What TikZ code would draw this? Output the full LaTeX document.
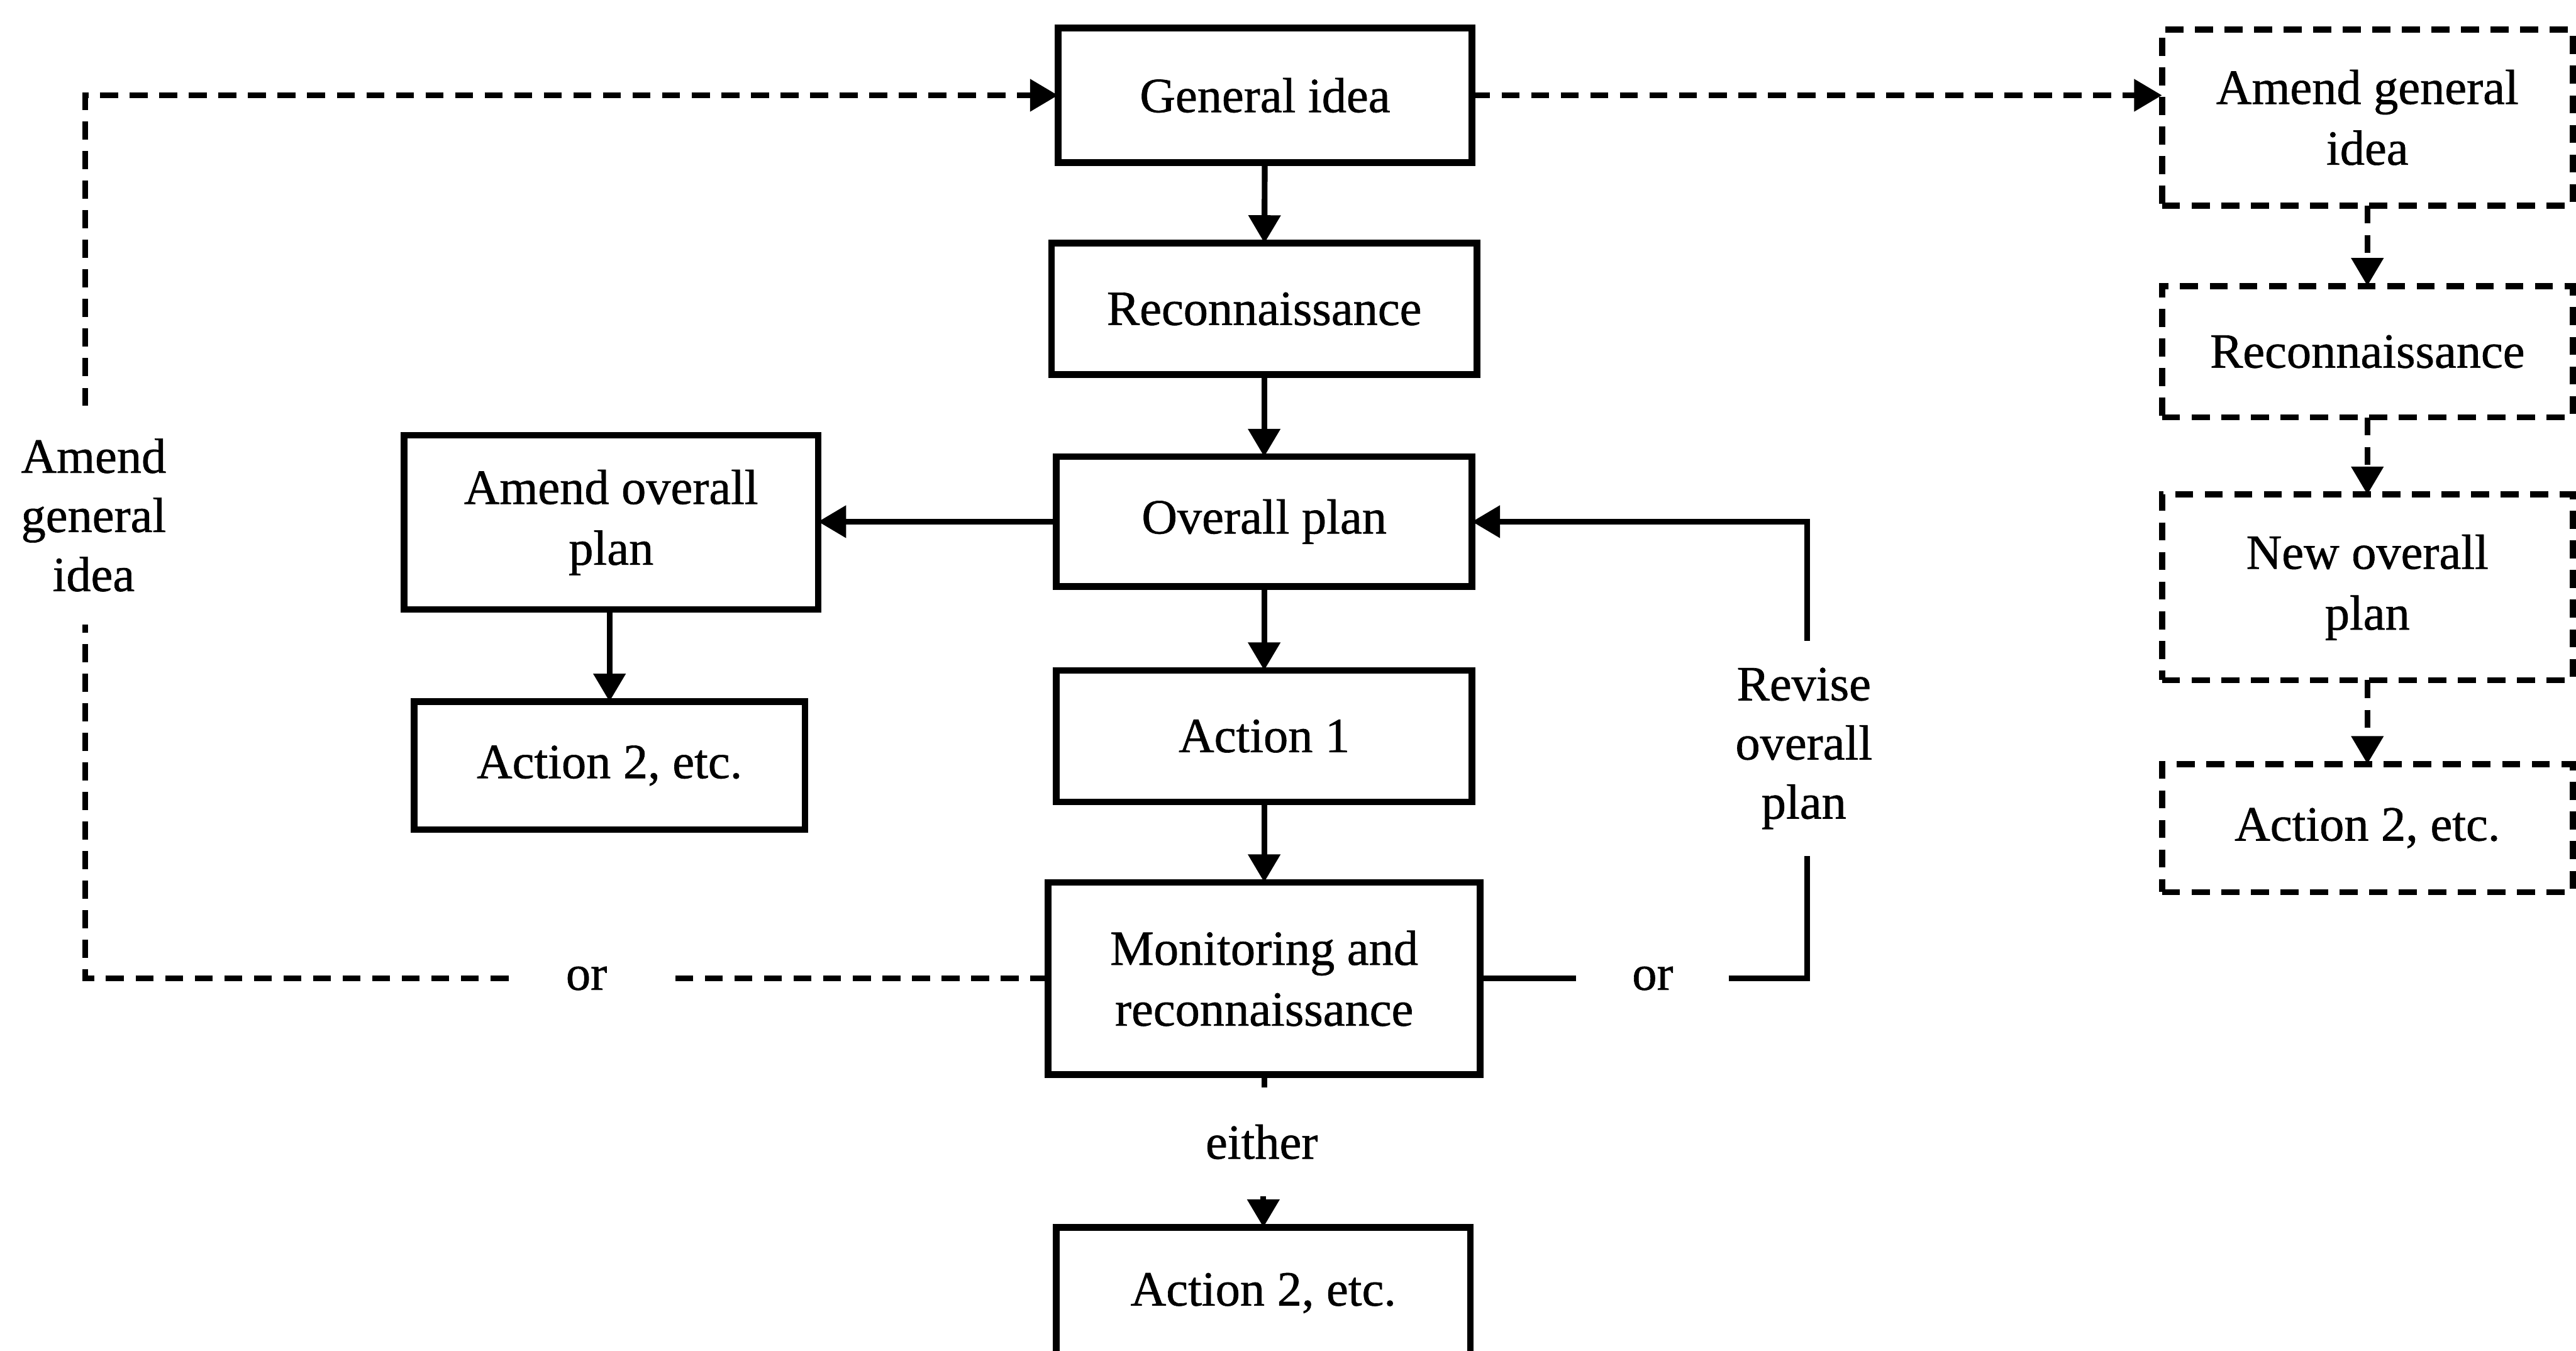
\documentclass[tikz,border=0pt]{standalone}
\usepackage{fontspec}
\setmainfont{Liberation Serif}[FakeBold=0.8]
\usetikzlibrary{arrows.meta}
\begin{document}
\begin{tikzpicture}[x=1pt,y=-1pt,
  box/.style={draw, line width=4pt, inner sep=0pt, outer sep=0pt, align=center,
    font=\fontsize{30}{37}\selectfont},
  dbox/.style={box, line width=3.8pt, dash pattern=on 11pt off 7pt},
  lbl/.style={inner sep=0pt, outer sep=0pt, align=center, font=\fontsize{30}{36}\selectfont},
  conn/.style={line width=3.5pt},
  arr/.style={conn, -{Triangle[length=17pt,width=19pt]}},
  dconn/.style={conn, dash pattern=on 11pt off 7pt},
  darr/.style={dconn, -{Triangle[length=17pt,width=19pt]}},
]
\useasboundingbox (0,0) rectangle (1568,822);
\fill[white] (0,0) rectangle (1568,822);
\begin{scope}
\clip (0,0) rectangle (1568,822);

% main column
\node[box, minimum width=252pt, minimum height=82pt]  (gi)  at (770,58)    {General idea};
\node[box, minimum width=259pt, minimum height=80pt]  (rec) at (769.5,188) {Reconnaissance};
\node[box, minimum width=253pt, minimum height=79pt]  (op)  at (769.5,317.5) {Overall plan};
\node[box, minimum width=253pt, minimum height=80pt]  (a1)  at (769.5,448) {Action 1};
\node[box, minimum width=263pt, minimum height=117pt] (mon) at (769.5,595.5) {Monitoring and\\reconnaissance};
\node[box, minimum width=252pt, minimum height=80pt]  (a2c) at (769,787)   {Action 2, etc.};

% left branch
\node[box, minimum width=252pt, minimum height=106pt] (aop) at (372,318) {Amend overall\\plan};
\node[box, minimum width=238pt, minimum height=78pt]  (a2l) at (371,466) {Action 2, etc.};

% right column (alternative route)
\node[dbox, minimum width=250pt, minimum height=107pt] (agi)  at (1441,71.5) {Amend general\\idea};
\node[dbox, minimum width=250pt, minimum height=80pt]  (rec2) at (1441,214)  {Reconnaissance};
\node[dbox, minimum width=250pt, minimum height=113pt] (nop)  at (1441,357.5) {New overall\\plan};
\node[dbox, minimum width=250pt, minimum height=78pt]  (a2r)  at (1441,504)  {Action 2, etc.};

% labels on the loops
\node[lbl, minimum width=95pt]  (orL)    at (357,595.5) {or};
\node[lbl, minimum width=93pt]  (orR)    at (1006,595.5) {or};
\node[lbl, minimum height=66pt] (either) at (768,695)  {either};
\node[lbl, minimum height=133pt] (agl)   at (57,313.5) {Amend\\general\\idea};
\node[lbl, minimum height=131pt] (rev)   at (1098,455.5) {Revise\\overall\\plan};

% main flow
\draw[arr] (gi) -- (rec);
\draw[arr] (rec) -- (op);
\draw[arr] (op) -- (a1);
\draw[arr] (a1) -- (mon);
\draw[conn] (mon.south) -- (mon.south |- either.north);
\draw[arr] (either.south -| a2c.north) -- (a2c.north);

% amend the overall plan
\draw[arr] (op.west) -- (op.west -| aop.east);
\draw[arr] (aop.south -| a2l.north) -- (a2l.north);

% revise the overall plan
\draw[conn] (mon.east) -- (orR.west);
\draw[conn] (orR.east) -| ([xshift=2pt]rev.south);
\draw[arr] ([xshift=2pt]rev.north) |- (op.east);

% amend the general idea
\draw[dconn] (mon.west) -- (orL.east);
\draw[dconn] (orL.west) -| ([xshift=-5pt]agl.south);
\draw[darr] ([xshift=-5pt]agl.north) |- (gi.west);
\draw[darr] (gi.east) -- (gi.east -| agi.west);
\draw[darr] (agi.south) -- (rec2.north);
\draw[darr] (rec2.south) -- (nop.north);
\draw[darr] (nop.south) -- (a2r.north);
\end{scope}
\end{tikzpicture}
\end{document}
